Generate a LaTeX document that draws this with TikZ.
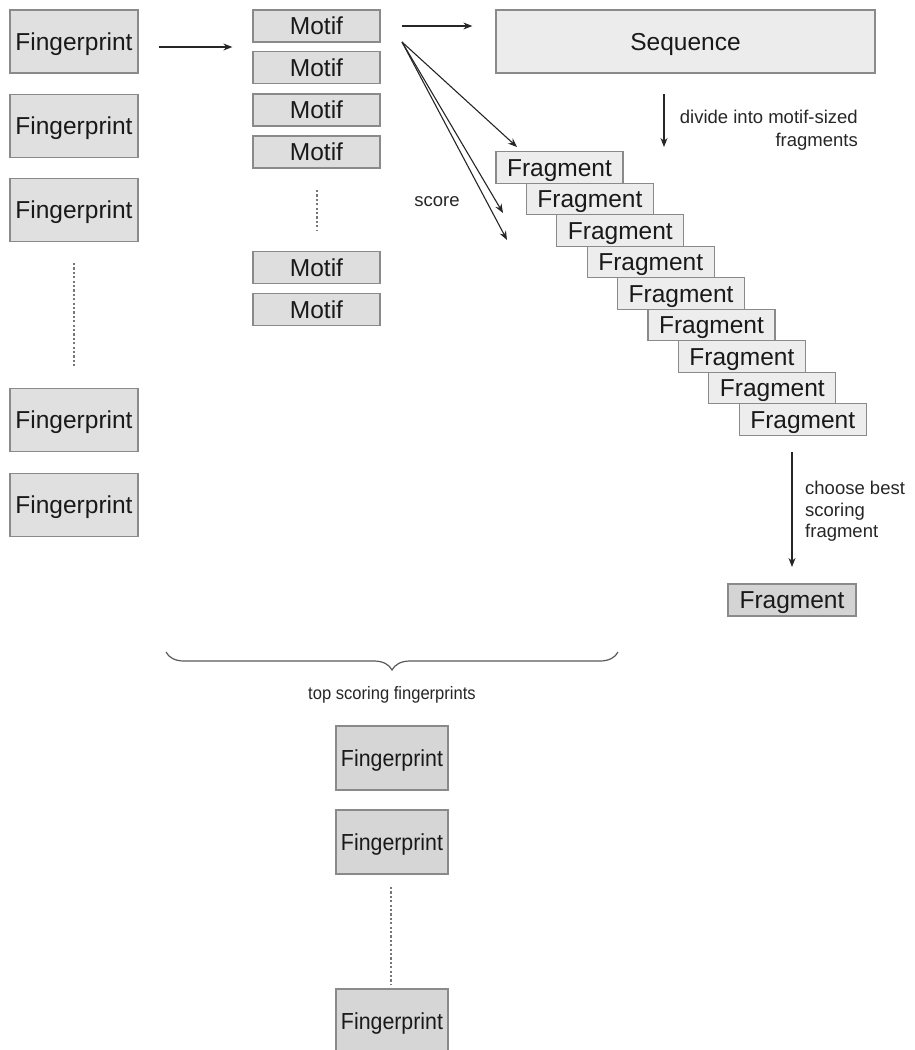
\documentclass[tikz,border=0pt]{standalone}
\usepackage{fontspec}
\setmainfont{Liberation Sans}
\newfontfamily\narrowsans[FakeStretch=0.92]{Liberation Sans}
\usetikzlibrary{arrows.meta,decorations.pathreplacing,calc}
\definecolor{edgegray}{HTML}{8A8A8A}
\definecolor{fpfill}{HTML}{E0E0E0}
\definecolor{motiffill}{HTML}{DEDEDE}
\definecolor{seqfill}{HTML}{ECECEC}
\definecolor{fragfill}{HTML}{EDEDED}
\definecolor{bestfill}{HTML}{D4D4D4}
\definecolor{topfill}{HTML}{D6D6D6}
\definecolor{dotgray}{HTML}{777777}
\tikzset{
  box/.style={draw=edgegray, line width=1.3pt, inner sep=0pt, rectangle,
              font=\fontsize{24.5}{28}\selectfont, text=black!90,
              text height=17.5pt, text depth=0pt},
  fpbox/.style={box, fill=fpfill, minimum width=128pt, minimum height=63pt},
  motifbox/.style={box, fill=motiffill, minimum width=127pt, minimum height=32pt},
  seqbox/.style={box, fill=seqfill, minimum width=379pt, minimum height=63pt},
  fragbox/.style={box, fill=fragfill, minimum width=127pt, minimum height=31.5pt},
  bestbox/.style={box, fill=bestfill, minimum width=128pt, minimum height=32pt},
  topbox/.style={box, fill=topfill, minimum width=112pt, minimum height=64pt,
              font=\narrowsans\fontsize{23.2}{27}\selectfont, text height=16.6pt},
  arr/.style={draw=black!85, line width=1.1pt, -{Stealth[length=9pt,width=7pt]}},
  ellipsis/.style={draw=dotgray, line width=1.2pt, dash pattern=on 2.2pt off 2.2pt},
  lbl/.style={font=\fontsize{18.5}{23.5}\selectfont, text=black!85, inner sep=0pt},
  bracestyle/.style={draw=black!65, line width=1.2pt,
      decoration={brace, mirror, amplitude=18pt}, decorate},
}
\begin{document}
\begin{tikzpicture}[x=1pt,y=-1pt]
\useasboundingbox (0,0) rectangle (915,1050);

% fingerprint library (left column)
\node[fpbox] (fp1) at (74,41.5) {Fingerprint};
\node[fpbox] (fp2) at (74,126) {Fingerprint};
\node[fpbox] (fp3) at (74,210) {Fingerprint};
\node[fpbox] (fp4) at (74,420) {Fingerprint};
\node[fpbox] (fp5) at (74,505) {Fingerprint};
\coordinate (fpdotA) at (74,263);
\coordinate (fpdotB) at (74,368);
\draw[ellipsis] (fpdotA) -- (fpdotB);

% motifs of one fingerprint
\node[motifbox] (m1) at (316.5,26) {Motif};
\node[motifbox] (m2) at (316.5,67.5) {Motif};
\node[motifbox] (m3) at (316.5,110) {Motif};
\node[motifbox] (m4) at (316.5,152) {Motif};
\node[motifbox] (m5) at (316.5,267.5) {Motif};
\node[motifbox] (m6) at (316.5,309.5) {Motif};
\coordinate (mdotA) at (317,190);
\coordinate (mdotB) at (317,230);
\draw[ellipsis] (mdotA) -- (mdotB);

% query sequence
\node[seqbox] (seq) at (685.5,41.5) {Sequence};

% motif-sized fragments
\foreach \i in {1,...,9}{
  \node[fragbox] (f\i) at ({559.5+30.4*(\i-1)},{167.5+31.5*(\i-1)}) {Fragment};
}

% best fragment
\node[bestbox] (best) at (792,600) {Fragment};

% top scoring fingerprints
\node[topbox] (t1) at (392,758) {Fingerprint};
\node[topbox] (t2) at (392,842) {Fingerprint};
\node[topbox] (t3) at (392,1021) {Fingerprint};
\coordinate (tdotA) at (391,887);
\coordinate (tdotB) at (391,985);
\draw[ellipsis] (tdotA) -- (tdotB);

% arrows
\draw[arr, shorten <=20pt, shorten >=20pt] ([yshift=-5.5pt]fp1.east) -- ([yshift=-5.5pt]fp1.east -| m1.west);
\draw[arr, shorten <=21pt, shorten >=23pt] (m1.east) -- (m1.east -| seq.west);

\coordinate (sc) at (402,42);
\coordinate (sc1) at (517,147);
\coordinate (sc2) at (503,213);
\coordinate (sc3) at (507,240);
\draw[arr] (sc) -- (sc1);
\draw[arr] (sc) -- (sc2);
\draw[arr] (sc) -- (sc3);
\node[lbl] (scorelbl) at (437,202) {score};

\coordinate (dv1) at (664,94);
\coordinate (dv2) at (664,147);
\draw[arr] (dv1) -- (dv2);
\node[lbl, align=right, anchor=east] (divlbl) at (858,130) {divide into motif-sized\\fragments};

\coordinate (cb1) at (792,452);
\coordinate (cb2) at (792,567);
\draw[arr] (cb1) -- (cb2);
\node[lbl, align=left, anchor=west, font=\fontsize{18.5}{21.5}\selectfont] (cblbl) at (805,511.5) {choose best\\scoring\\fragment};

% brace gathering the results
\coordinate (brA) at (166,652);
\coordinate (brB) at (618,652);
\draw[bracestyle] (brA) -- (brB);
\node[lbl, font=\narrowsans\fontsize{18}{22}\selectfont] (toplbl) at (392,695) {top scoring fingerprints};
\end{tikzpicture}
\end{document}
